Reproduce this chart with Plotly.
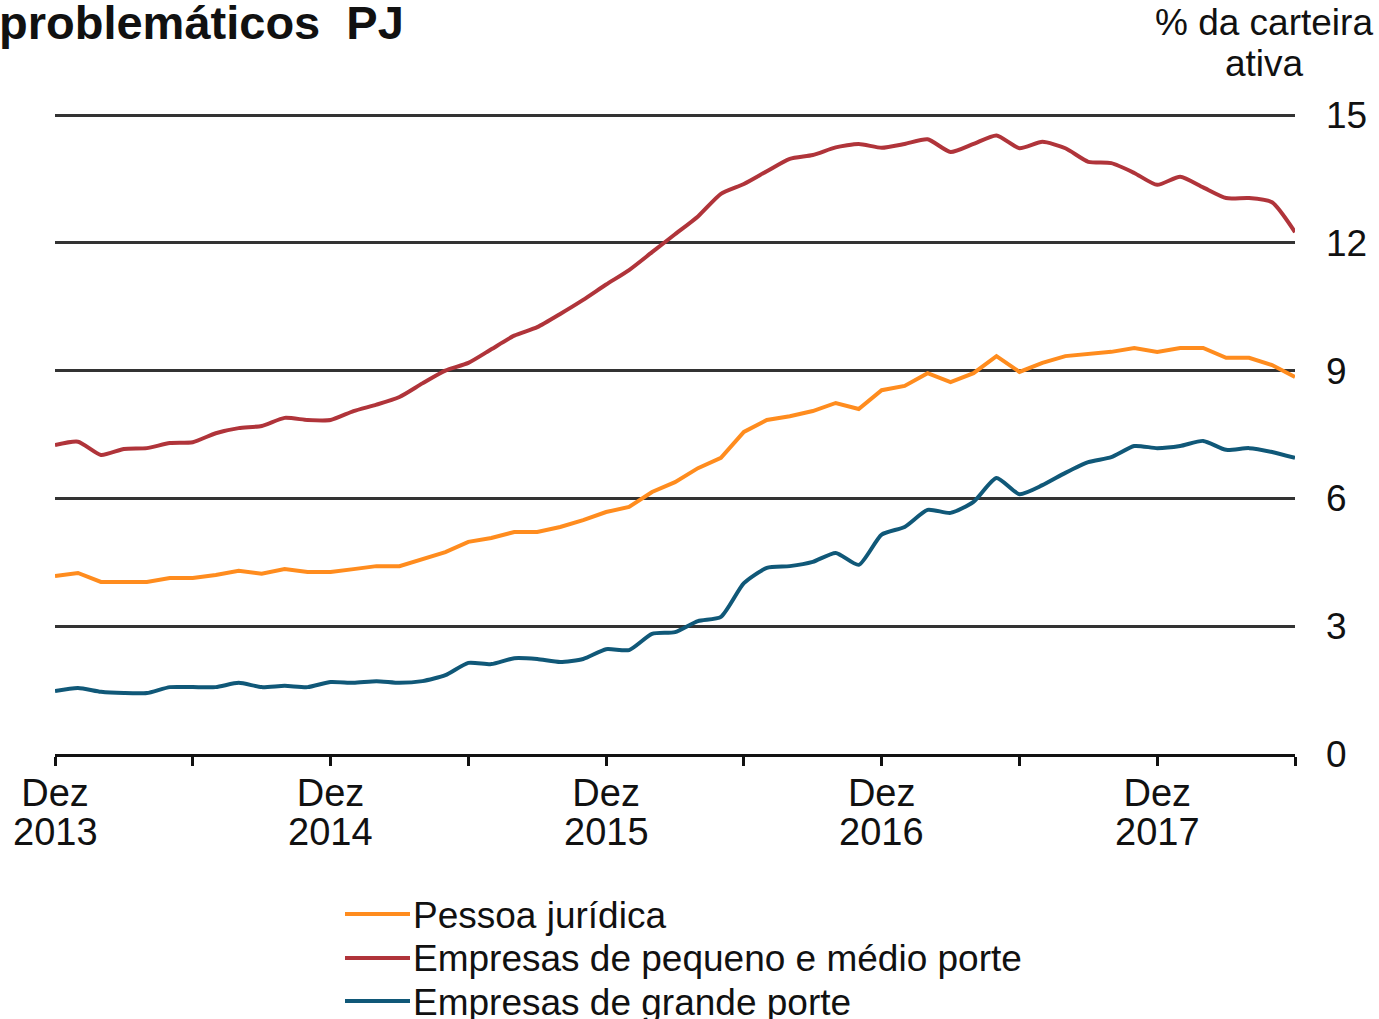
import plotly.graph_objects as go
import pandas as pd

# Monthly categories Dez 2013 .. Jun 2018
pt_months = ["jan", "fev", "mar", "abr", "mai", "jun", "jul", "ago", "set", "out", "nov", "dez"]
dates = pd.date_range("2013-12-01", periods=55, freq="MS")
months = [f"{pt_months[d.month - 1]}/{d.year}" for d in dates]

pessoa_juridica = [4.18, 4.25, 4.04, 4.04, 4.04, 4.13, 4.13, 4.20, 4.30, 4.23,
                   4.34, 4.27, 4.27, 4.34, 4.41, 4.41, 4.58, 4.74, 4.98, 5.07,
                   5.21, 5.21, 5.33, 5.49, 5.68, 5.80, 6.15, 6.38, 6.71, 6.95,
                   7.56, 7.84, 7.93, 8.05, 8.24, 8.10, 8.54, 8.64, 8.94, 8.73,
                   8.94, 9.34, 8.97, 9.18, 9.34, 9.39, 9.44, 9.53, 9.44, 9.53,
                   9.53, 9.30, 9.30, 9.13, 8.85]

pme = [7.25, 7.33, 7.02, 7.16, 7.18, 7.30, 7.32, 7.53, 7.65, 7.70,
       7.89, 7.84, 7.84, 8.05, 8.20, 8.38, 8.70, 9.00, 9.18, 9.50,
       9.82, 10.02, 10.33, 10.66, 11.02, 11.36, 11.78, 12.20, 12.62, 13.15,
       13.38, 13.68, 13.97, 14.06, 14.24, 14.32, 14.23, 14.32, 14.43, 14.13,
       14.32, 14.52, 14.22, 14.37, 14.22, 13.90, 13.87, 13.64, 13.36, 13.55,
       13.30, 13.05, 13.05, 12.95, 12.25]

grande = [1.48, 1.55, 1.46, 1.43, 1.43, 1.57, 1.57, 1.57, 1.67, 1.57,
          1.60, 1.57, 1.69, 1.67, 1.71, 1.67, 1.71, 1.85, 2.14, 2.11,
          2.25, 2.23, 2.16, 2.23, 2.46, 2.44, 2.82, 2.86, 3.12, 3.22,
          4.01, 4.37, 4.41, 4.51, 4.72, 4.44, 5.15, 5.33, 5.73, 5.66,
          5.92, 6.48, 6.10, 6.31, 6.60, 6.85, 6.97, 7.23, 7.18, 7.23,
          7.35, 7.14, 7.18, 7.09, 6.95]

series_names = ["Pessoa jurídica", "Empresas de pequeno e médio porte", "Empresas de grande porte"]
series_colors = ["#FF8C1E", "#B0343A", "#105878"]

tick_idx = list(range(0, 55, 6))
tick_vals = [months[i] for i in tick_idx]
tick_text = ["Dez" if months[i].startswith("dez") else "" for i in tick_idx]
year_labels = [(months[i], months[i].split("/")[1]) for i in tick_idx if months[i].startswith("dez")]

y_ticks = [0, 3, 6, 9, 12, 15]

FONT = "Liberation Sans, Arial, sans-serif"
W, H = 1379, 1019
L, R, T15, B = 55, 1295, 115, 754  # pixel positions: left, right, value 15, value 0
PX_PER_UNIT = (B - T15) / 15.0
EXTRA_TOP = 10  # px headroom above the 15 gridline so it is drawn
Y_MAX = 15 + EXTRA_TOP / PX_PER_UNIT
T = T15 - EXTRA_TOP


def px_x(p):
    return (p - L) / (R - L)


def px_y(p):
    return (B - p) / (B - T)


fig = go.Figure()
fig.add_trace(go.Scatter(x=months, y=pessoa_juridica, mode="lines", name=series_names[0],
                         line=dict(color=series_colors[0], width=4)))
fig.add_trace(go.Scatter(x=months, y=pme, mode="lines", name=series_names[1],
                         line=dict(color=series_colors[1], width=4, shape="spline", smoothing=0.6)))
fig.add_trace(go.Scatter(x=months, y=grande, mode="lines", name=series_names[2],
                         line=dict(color=series_colors[2], width=4, shape="spline", smoothing=0.6)))

fig.update_layout(
    width=W, height=H,
    margin=dict(l=L, r=W - R, t=T, b=H - B),
    paper_bgcolor="white", plot_bgcolor="white",
    showlegend=False,
    font=dict(family=FONT, size=37, color="#111111"),
)
fig.update_xaxes(
    type="category", range=[0, 54],
    tickmode="array", tickvals=tick_vals, ticktext=tick_text,
    ticks="outside", ticklen=9, tickwidth=3, tickcolor="#111111",
    showline=True, linecolor="#111111", linewidth=3,
    showgrid=False, zeroline=False,
    tickfont=dict(size=38, family=FONT, color="#111111"),
    ticklabelstandoff=-6,
)
fig.update_yaxes(
    range=[0, Y_MAX], side="right",
    tickmode="array", tickvals=y_ticks, ticktext=[str(v) for v in y_ticks],
    showgrid=True, gridcolor="#333333", gridwidth=2.5,
    zeroline=False, showline=False, ticks="",
    tickfont=dict(size=37, family=FONT, color="#111111"),
    ticklabelstandoff=30,
)

annotations = []
# year line under "Dez"
for cat, yr in year_labels:
    annotations.append(dict(x=cat, xref="x", y=px_y(832), yref="paper", text=yr,
                            showarrow=False, xanchor="center", yanchor="middle",
                            font=dict(size=38, family=FONT, color="#111111")))
# title
annotations.append(dict(x=px_x(-3), xref="paper", y=px_y(22), yref="paper",
                        text="<b>problemáticos  PJ</b>", showarrow=False,
                        xanchor="left", yanchor="middle",
                        font=dict(size=47, family=FONT, color="#111111")))
# unit label
annotations.append(dict(x=px_x(1264), xref="paper", y=px_y(23), yref="paper",
                        text="% da carteira", showarrow=False, xanchor="center", yanchor="middle",
                        font=dict(size=37, family=FONT, color="#111111")))
annotations.append(dict(x=px_x(1264), xref="paper", y=px_y(63), yref="paper",
                        text="ativa", showarrow=False, xanchor="center", yanchor="middle",
                        font=dict(size=37, family=FONT, color="#111111")))

shapes = []
legend_rows = [914, 958, 1001]
for name, color, ry in zip(series_names, series_colors, legend_rows):
    shapes.append(dict(type="line", xref="paper", yref="paper",
                       x0=px_x(345), x1=px_x(410), y0=px_y(ry), y1=px_y(ry),
                       line=dict(color=color, width=4)))
    annotations.append(dict(x=px_x(411), xref="paper", y=px_y(ry + 1), yref="paper",
                            text=name, showarrow=False, xanchor="left", yanchor="middle",
                            font=dict(size=37, family=FONT, color="#111111")))

fig.update_layout(annotations=annotations, shapes=shapes)
fig.write_html(
    "out.html",
    config={"displayModeBar": False},
    post_script="document.body.style.margin='0px';document.body.style.overflow='hidden';",
)
